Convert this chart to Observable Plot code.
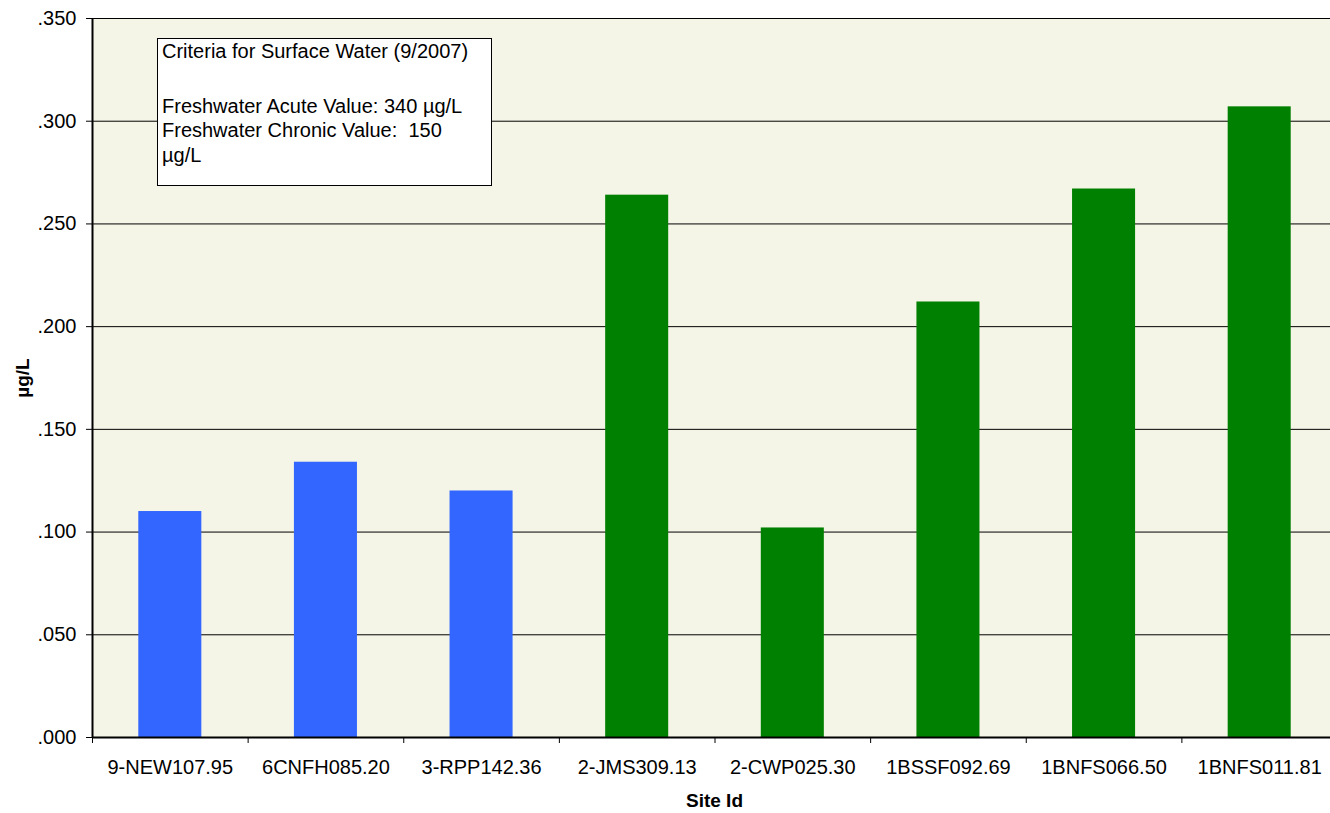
<!DOCTYPE html>
<html>
<head>
<meta charset="utf-8">
<script src="https://cdn.jsdelivr.net/npm/d3@7"></script>
<script src="https://cdn.jsdelivr.net/npm/@observablehq/plot@0.6"></script>
<style>
  html, body { margin: 0; padding: 0; background: #fff; overflow: hidden; }
  #wrap { position: relative; width: 1337px; height: 813px; font-family: "Liberation Sans", Arial, sans-serif; color: #000; }
  #info { position: absolute; left: 157px; top: 38px; width: 329px; height: 146px; background: #fff; border: 1px solid #000; padding: 0 0 0 4px; box-sizing: content-box; font-size: 20px; white-space: pre; }
  #info div { line-height: 24.5px; height: 24.5px; }
  #info div.blank { height: 30px; }
  .atitle { position: absolute; font-weight: bold; font-size: 19px; white-space: nowrap; }
</style>
</head>
<body>
<div id="wrap"></div>
<script>
// ---- data ----
const sites = ["9-NEW107.95", "6CNFH085.20", "3-RPP142.36", "2-JMS309.13", "2-CWP025.30", "1BSSF092.69", "1BNFS066.50", "1BNFS011.81"];
const values = [0.110, 0.134, 0.120, 0.264, 0.102, 0.212, 0.267, 0.307];
const groups = ["A", "A", "A", "B", "B", "B", "B", "B"];
const yTicks = [0, 0.05, 0.10, 0.15, 0.20, 0.25, 0.30, 0.35];
const infoLines = ["Criteria for Surface Water (9/2007)", "", "Freshwater Acute Value: 340 µg/L", "Freshwater Chronic Value:  150", "µg/L"];
const xTitle = "Site Id";
const yTitle = "µg/L";

const rows = sites.map((s, i) => ({site: s, value: values[i], group: groups[i]}));

const W = 1337, H = 813, mL = 92, mR = 0, mT = 18, mB = 76;
const step = (W - mL - mR) / sites.length;
const fmt = d => d3.format(".3f")(d).replace(/^0/, "");

const chart = Plot.plot({
  width: W, height: H,
  marginLeft: mL, marginRight: mR, marginTop: mT, marginBottom: mB,
  style: {fontSize: "20px", fontFamily: "Liberation Sans, Arial, sans-serif", color: "#000", background: "transparent", overflow: "visible"},
  x: {domain: sites, paddingInner: 0.595, paddingOuter: 0.2975, round: false, label: null},
  y: {domain: [0, 0.35], label: null},
  color: {domain: ["A", "B"], range: ["#3366FF", "#008000"]},
  marks: [
    Plot.frame({fill: "#F5F5E7", stroke: null}),
    Plot.gridY(yTicks, {stroke: "#000", strokeOpacity: 1, strokeWidth: 1}),
    Plot.barY(rows, {x: "site", y: "value", fill: "group"}),
    Plot.ruleY([0], {stroke: "#000", strokeWidth: 2}),
    Plot.ruleX([sites[0]], {dx: -step / 2, stroke: "#000", strokeWidth: 2}),
    Plot.axisY({ticks: yTicks, tickSize: 6, tickPadding: 10, tickFormat: fmt, label: null}),
    Plot.axisX({tickSize: 6, dx: -step / 2, tickFormat: () => "", label: null}),
    Plot.axisX({tickSize: 0, tickPadding: 22, label: null})
  ]
});

const wrap = document.getElementById("wrap");
wrap.appendChild(chart);

const info = document.createElement("div");
info.id = "info";
infoLines.forEach(t => {
  const d = document.createElement("div");
  d.textContent = t;
  if (t === "") d.className = "blank";
  info.appendChild(d);
});
wrap.appendChild(info);

const xt = document.createElement("div");
xt.className = "atitle";
xt.textContent = xTitle;
xt.style.left = (mL + (W - mL - mR) / 2) + "px";
xt.style.top = "790px";
xt.style.transform = "translateX(-50%)";
wrap.appendChild(xt);

const yt = document.createElement("div");
yt.className = "atitle";
yt.textContent = yTitle;
yt.style.left = "23px";
yt.style.top = ((mT + (H - mB)) / 2) + "px";
yt.style.transform = "translate(-50%, -50%) rotate(-90deg)";
wrap.appendChild(yt);
</script>
</body>
</html>
